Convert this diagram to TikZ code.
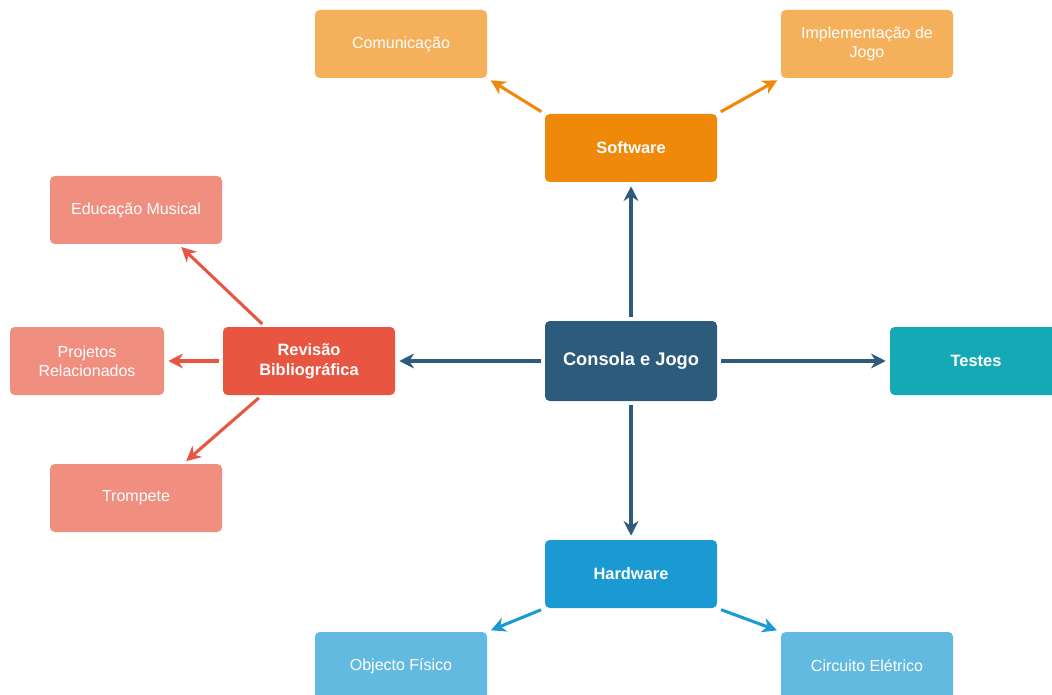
\documentclass[tikz,border=0pt]{standalone}
\usepackage{fontspec}
\setmainfont{Liberation Sans}
\usetikzlibrary{arrows.meta}
\definecolor{ConsBlue}{HTML}{2D5B7C}
\definecolor{SoftOrange}{HTML}{F0890A}
\definecolor{SoftPale}{HTML}{F5B05B}
\definecolor{RevRed}{HTML}{E85540}
\definecolor{RevPale}{HTML}{F08F80}
\definecolor{TestTeal}{HTML}{14A9B5}
\definecolor{HardBlue}{HTML}{1A99D3}
\definecolor{HardPale}{HTML}{63BAE1}

\tikzset{
  box/.style={rectangle,rounded corners=3.5pt,minimum width=129pt,minimum height=51pt,
    inner sep=0pt,text=white,align=center,font=\fontsize{12}{14.5}\selectfont},
  mainbox/.style={box,font=\fontsize{12.3}{14.8}\selectfont\bfseries},
  link/.style={line width=2.3pt,-{Stealth[length=11pt,width=11pt,inset=3.5pt]},shorten <=3pt,shorten >=3pt},
}

\begin{document}
\begin{tikzpicture}[x=0.75pt,y=-0.75pt]
  \useasboundingbox (0,0) rectangle (1052,695);
  % centre
  \node[mainbox,fill=ConsBlue,minimum height=60pt,font=\fontsize{13.7}{16}\selectfont\bfseries]
    (con) at (631,361) {Consola e Jogo};
  % branches
  \node[mainbox,fill=SoftOrange] (sw)  at (631,148) {Software};
  \node[mainbox,fill=HardBlue]   (hw)  at (631,574) {Hardware};
  \node[mainbox,fill=RevRed]     (rev) at (309,361) {Revisão\\Bibliográfica};
  \node[mainbox,fill=TestTeal]   (tst) at (976,361) {Testes};
  % leaves
  \node[box,fill=SoftPale] (com) at (401,44)  {Comunicação};
  \node[box,fill=SoftPale] (imp) at (867,44)  {Implementação de\\Jogo};
  \node[box,fill=RevPale]  (edu) at (136,210) {Educação Musical};
  \node[box,fill=RevPale,minimum width=115.5pt] (prj) at (87,361) {Projetos\\Relacionados};
  \node[box,fill=RevPale]  (trm) at (136,498) {Trompete};
  \node[box,fill=HardPale] (obj) at (401,666) {Objecto Físico};
  \node[box,fill=HardPale] (cir) at (867,666) {Circuito Elétrico};
  % connectors
  \draw[link,ConsBlue] (con.north) -- (sw.south);
  \draw[link,ConsBlue] (con.south) -- (hw.north);
  \draw[link,ConsBlue] (con.west) -- (rev.east);
  \draw[link,ConsBlue] (con.east) -- (tst.west);
  \draw[link,SoftOrange] (sw.north west) -- (com.south east);
  \draw[link,SoftOrange] (sw.north east) -- (imp.south west);
  \draw[link,RevRed] (rev.142) -- (edu.-39);
  \draw[link,RevRed] (rev.west) -- (prj.east);
  \draw[link,RevRed] (rev.216) -- (trm.36);
  \draw[link,HardBlue] (hw.south west) -- (obj.north east);
  \draw[link,HardBlue] (hw.south east) -- (cir.north west);
\end{tikzpicture}
\end{document}
